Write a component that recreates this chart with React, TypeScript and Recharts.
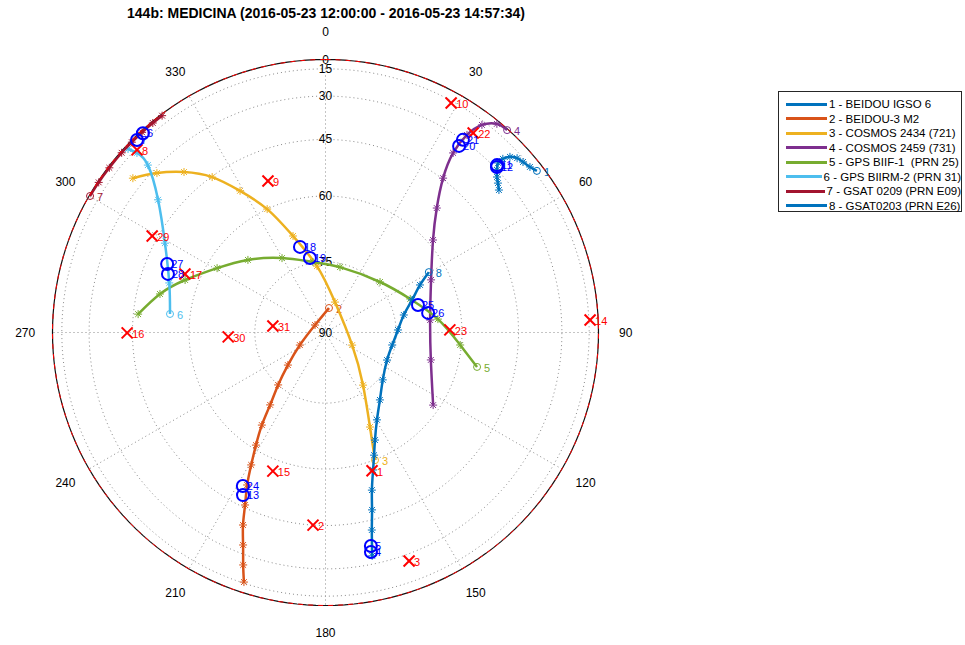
import React from "react";
import { ScatterChart, Scatter, XAxis, YAxis } from "recharts";

const TITLE = "144b: MEDICINA (2016-05-23 12:00:00 - 2016-05-23 14:57:34)";
const FONT = "Arial, 'Liberation Sans', Helvetica, sans-serif";

const SAT_NAMES = [
  "1 - BEIDOU IGSO 6",
  "2 - BEIDOU-3 M2",
  "3 - COSMOS 2434 (721)",
  "4 - COSMOS 2459 (731)",
  "5 - GPS BIIF-1  (PRN 25)",
  "6 - GPS BIIRM-2 (PRN 31)",
  "7 - GSAT 0209 (PRN E09)",
  "8 - GSAT0203 (PRN E26)",
];
const SAT_COLORS = ["#0072BD", "#D95319", "#EDB120", "#7E2F8E", "#77AC30", "#4DBEEE", "#A2142F", "#0072BD"];

// tracks as [azimuth, elevation] in degrees, first point is where the pass starts
const TRACK_1 = [[52.6, 12.9], [51.0, 15.5], [49.2, 17.1], [47.7, 18.4], [46.4, 21.1], [45.6, 24.6], [45.5, 27.6], [46.5, 30.1], [47.8, 32.0], [49.1, 33.3], [50.6, 34.7]];
const TRACK_2 = [[8.1, 84.8], [305.5, 87.3], [243.9, 84.0], [229.1, 79.5], [222.1, 75.0], [217.4, 70.5], [214.5, 65.7], [211.7, 61.0], [209.3, 56.2], [207.2, 51.1], [205.0, 45.8], [203.2, 39.9], [201.2, 33.4], [199.5, 25.4], [198.1, 15.9]];
const TRACK_3 = [[158.8, 59.9], [154.8, 67.5], [144.5, 76.3], [115.3, 83.8], [17.3, 83.3], [352.7, 75.8], [341.4, 68.1], [334.7, 60.0], [328.9, 52.7], [323.9, 45.2], [318.6, 38.4], [313.4, 31.8], [308.7, 25.3]];
const TRACK_4 = [[41.9, 5.1], [39.4, 8.5], [37.0, 17.8], [35.6, 27.1], [35.4, 36.2], [37.3, 44.7], [41.8, 52.3], [49.3, 58.7], [63.5, 64.4], [83.2, 67.3], [104.6, 66.5], [124.0, 61.6]];
const TRACK_5 = [[102.8, 55.3], [95.3, 60.3], [83.2, 65.5], [68.4, 70.5], [47.2, 74.2], [12.5, 75.8], [349.9, 74.8], [329.7, 71.6], [313.1, 67.1], [300.7, 62.5], [290.5, 56.7], [283.1, 51.5], [275.6, 46.4]];
const TRACK_6 = [[276.8, 55.0], [287.6, 53.1], [299.1, 47.7], [308.4, 38.5], [313.3, 26.6], [313.6, 17.5], [312.9, 9.1]];
const TRACK_7 = [[300.1, 4.5], [303.5, 5], [307.3, 5.5], [311.4, 5.5], [314.5, 6], [317.5, 6], [320.5, 6], [323.0, 6]];
const TRACK_8 = [[59.7, 64.0], [63.3, 67.2], [69.4, 70.2], [77.4, 72.9], [88.0, 74.6], [100.6, 75.6], [114.1, 75.7], [129.6, 74.2], [141.1, 71.5], [149.5, 68.2], [155.3, 64.3], [158.4, 61.1], [160.9, 57.8], [163.6, 53.0], [165.3, 47.8], [166.8, 42.0], [168.2, 33.3]];
const TRACKS = [TRACK_1, TRACK_2, TRACK_3, TRACK_4, TRACK_5, TRACK_6, TRACK_7, TRACK_8];

// points not seen: [label, azimuth, elevation]
const MISSED = [
  ["1", 161.4, 57.7], ["2", 183.7, 45.0], ["3", 159.9, 27.0], ["8", 314.1, 16.0],
  ["9", 339.2, 53.6], ["10", 28.7, 16.6], ["14", 87.3, 14.0], ["15", 200.8, 57.1],
  ["16", 269.9, 43.4], ["17", 292.6, 56.1], ["22", 36.5, 24.6], ["23", 88.8, 62.9],
  ["29", 299.1, 43.4], ["30", 267.4, 69.1], ["31", 277.1, 78.8],
];
// points seen
const FOUND = [
  ["4", 168.3, 34.8], ["5", 168.0, 36.9], ["6", 317.5, 8.1], ["7", 315.6, 9.3],
  ["11", 45.7, 28.6], ["12", 46.0, 29.2], ["13", 206.9, 48.1], ["24", 208.3, 50.3],
  ["18", 343.4, 70.9], ["19", 348.2, 73.8], ["20", 35.6, 32.8], ["21", 35.5, 29.9],
  ["25", 73.4, 69.3], ["26", 79.2, 67.5], ["27", 293.4, 50.8], ["28", 290.4, 52.0],
];

const AZ_TICKS = [0, 30, 60, 90, 120, 150, 180, 210, 240, 270, 300, 330];
const EL_RINGS = [15, 30, 45, 60, 75];
const EL_LABELS = [0, 15, 30, 45, 60, 75, 90];

const rad = (d: number) => (d * Math.PI) / 180;
const toXY = (az: number, el: number, k = 1) => {
  const r = Math.cos(rad(el)) * k;
  return { x: r * Math.sin(rad(az)), y: r * Math.cos(rad(az)) };
};
const circlePts = (el: number) => Array.from({ length: 181 }, (_, i) => toXY(i * 2, el));

const NoDot = () => <g />;
const GRID_LINE = { stroke: "#8a8a8a", strokeWidth: 1, strokeDasharray: "1 3", fill: "none" };

const TextShape = (size: number, color = "#000") => (p: any) => (
  <text x={p.cx} y={p.cy} textAnchor="middle" dominantBaseline="central" fontSize={size} fill={color} fontFamily={FONT}>
    {p.payload?.label}
  </text>
);

const trackShape = (color: string) => (p: any) => {
  const { cx, cy } = p;
  if (p.payload?.j === 0) {
    return (
      <g>
        <circle cx={cx} cy={cy} r={3.5} fill="none" stroke={color} strokeWidth={1} />
        <text x={cx + 7} y={cy + 1} dominantBaseline="central" fontSize={11} fill={color} fontFamily={FONT}>
          {p.payload.num}
        </text>
      </g>
    );
  }
  const s = 4, d = 2.9;
  return (
    <g stroke={color} strokeWidth={1}>
      <line x1={cx - s} y1={cy} x2={cx + s} y2={cy} />
      <line x1={cx} y1={cy - s} x2={cx} y2={cy + s} />
      <line x1={cx - d} y1={cy - d} x2={cx + d} y2={cy + d} />
      <line x1={cx - d} y1={cy + d} x2={cx + d} y2={cy - d} />
    </g>
  );
};

const crossShape = (p: any) => {
  const { cx, cy } = p;
  const s = 5.5;
  return (
    <g>
      <g stroke="#FF0000" strokeWidth={2}>
        <line x1={cx - s} y1={cy - s} x2={cx + s} y2={cy + s} />
        <line x1={cx - s} y1={cy + s} x2={cx + s} y2={cy - s} />
      </g>
      <text x={cx + 5} y={cy + 1} dominantBaseline="central" fontSize={11} fill="#FF0000" fontFamily={FONT}>
        {p.payload?.label}
      </text>
    </g>
  );
};

const ringShape = (p: any) => {
  const { cx, cy } = p;
  return (
    <g>
      <circle cx={cx} cy={cy} r={6} fill="none" stroke="#0000FF" strokeWidth={2} />
      <text x={cx + 4} y={cy} dominantBaseline="central" fontSize={11} fill="#0000FF" fontFamily={FONT}>
        {p.payload?.label}
      </text>
    </g>
  );
};

export default function App() {
  const spokes = AZ_TICKS.filter((a) => a < 180).map((a) => [toXY(a, 0), toXY(a + 180, 0)]);
  const azLabels = AZ_TICKS.map((a) => ({ ...toXY(a, 0, 1.1), label: String(a) }));
  const elLabels = EL_LABELS.map((e) => ({ ...toXY(0, e), label: String(e) }));
  const missed = MISSED.map(([label, az, el]) => ({ ...toXY(az as number, el as number), label }));
  const found = FOUND.map(([label, az, el]) => ({ ...toXY(az as number, el as number), label }));

  return (
    <div style={{ position: "absolute", left: 0, top: 0, width: 965, height: 645, background: "#fff" }}>
      <div
        style={{
          position: "absolute", left: 0, top: 5, width: 652, textAlign: "center",
          fontFamily: FONT, fontWeight: "bold", fontSize: 14, lineHeight: "16px", color: "#000",
        }}
      >
        {TITLE}
      </div>
      <ScatterChart width={965} height={645} margin={{ top: 4.9, bottom: 1.28, left: 3.36, right: 311.9 }}>
        <XAxis type="number" dataKey="x" domain={[-1.18, 1.2]} hide />
        <YAxis type="number" dataKey="y" domain={[-1.14, 1.2]} hide />

        {EL_RINGS.map((e) => (
          <Scatter key={"ring" + e} data={circlePts(e)} line={GRID_LINE} shape={NoDot} isAnimationActive={false} />
        ))}
        {spokes.map((s, i) => (
          <Scatter key={"spoke" + i} data={s} line={GRID_LINE} shape={NoDot} isAnimationActive={false} />
        ))}
        <Scatter data={elLabels} shape={TextShape(12)} isAnimationActive={false} />
        <Scatter data={azLabels} shape={TextShape(12)} isAnimationActive={false} />
        <Scatter data={circlePts(0)} line={{ stroke: "#111", strokeWidth: 1.2, fill: "none" }} shape={NoDot} isAnimationActive={false} />

        {TRACKS.map((trk, i) => (
          <Scatter
            key={"trk" + i}
            data={trk.map(([az, el], j) => ({ ...toXY(az, el), j, num: i + 1 }))}
            line={{ stroke: SAT_COLORS[i], strokeWidth: 2.5, fill: "none" }}
            lineJointType="natural"
            shape={trackShape(SAT_COLORS[i])}
            isAnimationActive={false}
          />
        ))}

        <Scatter data={circlePts(0)} line={{ stroke: "#FF0000", strokeWidth: 1, strokeDasharray: "5 5", fill: "none" }} shape={NoDot} isAnimationActive={false} />
        <Scatter data={missed} shape={crossShape} isAnimationActive={false} />
        <Scatter data={found} shape={ringShape} isAnimationActive={false} />
      </ScatterChart>

      <div
        style={{
          position: "absolute", left: 778, top: 91, width: 184, height: 121, boxSizing: "border-box",
          border: "1px solid #262626", background: "#fff", paddingTop: 5, fontFamily: FONT, fontSize: 11.5, color: "#000",
        }}
      >
        {SAT_NAMES.map((n, i) => (
          <div key={n} style={{ display: "flex", alignItems: "center", height: 14.5 }}>
            <div style={{ width: 41, height: 3, background: SAT_COLORS[i], marginLeft: 7, marginRight: 2 }} />
            <span style={{ whiteSpace: "pre" }}>{n}</span>
          </div>
        ))}
      </div>
    </div>
  );
}
